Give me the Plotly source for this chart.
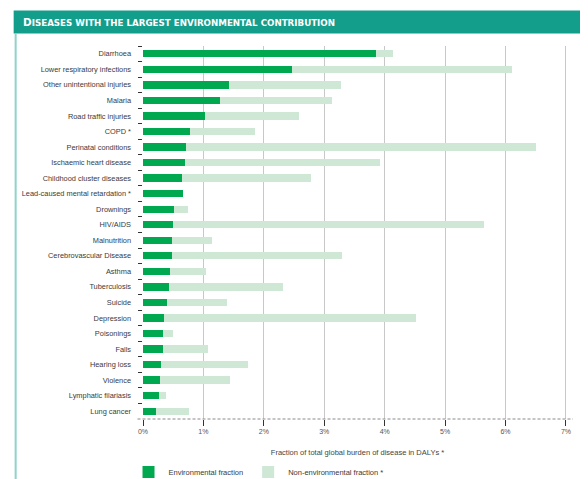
import plotly.graph_objects as go

diseases = [
    "Diarrhoea", "Lower respiratory infections", "Other unintentional injuries", "Malaria",
    "Road traffic injuries", "COPD *", "Perinatal conditions", "Ischaemic heart disease",
    "Childhood cluster diseases", "Lead-caused mental retardation *", "Drownings", "HIV/AIDS",
    "Malnutrition", "Cerebrovascular Disease", "Asthma", "Tuberculosis", "Suicide",
    "Depression", "Poisonings", "Falls", "Hearing loss", "Violence",
    "Lymphatic filariasis", "Lung cancer",
]
env_fraction = [3.85, 2.46, 1.43, 1.27, 1.03, 0.77, 0.71, 0.69, 0.65, 0.67, 0.52, 0.50,
                0.48, 0.48, 0.44, 0.43, 0.39, 0.35, 0.33, 0.33, 0.29, 0.28, 0.26, 0.22]
non_env_fraction = [0.29, 3.65, 1.84, 1.85, 1.56, 1.08, 5.79, 3.23, 2.13, 0.0, 0.23, 5.14,
                    0.66, 2.82, 0.61, 1.89, 1.00, 4.16, 0.17, 0.75, 1.45, 1.16, 0.12, 0.54]
x_ticks = [0, 1, 2, 3, 4, 5, 6, 7]
x_tick_labels = ["0%", "1%", "2%", "3%", "4%", "5%", "6%", "7%"]

GREEN = "#00a84f"
LIGHT = "#cfe7d5"
TEAL = "#139d8b"
FONT = "Liberation Sans Narrow, Arial Narrow, Liberation Sans, sans-serif"

# page body adds an 8px offset; work in window pixels and convert
OFF = 8
WIN_W, WIN_H = 588, 479
W, H = WIN_W - OFF, WIN_H - OFF
L, R, T, B = 142.5, 572.0, 45.5, 419.5  # plot area in window pixels


def px(xp):
    return (xp - L) / (R - L)


def py(yp):
    return (B - yp) / (B - T)


fig = go.Figure()
fig.add_trace(go.Bar(
    y=diseases, x=env_fraction, orientation="h", name="Environmental fraction",
    marker=dict(color=GREEN, line=dict(width=0)), width=0.47,
))
fig.add_trace(go.Bar(
    y=diseases, x=non_env_fraction, orientation="h", name="Non-environmental fraction *",
    marker=dict(color=LIGHT, line=dict(width=0)), width=0.47,
))

header = ("<b>D<span style='font-size:8.7px'>ISEASES WITH THE LARGEST ENVIRONMENTAL "
          "CONTRIBUTION</span></b>")

fig.update_layout(
    width=W, height=H,
    margin=dict(l=L - OFF, r=WIN_W - R, t=T - OFF, b=WIN_H - B, pad=0, autoexpand=False),
    paper_bgcolor="white", plot_bgcolor="white",
    barmode="stack", bargap=0.5,
    font=dict(family=FONT, size=8, color="#3a3a3a"),
    showlegend=True,
    legend=dict(orientation="h", x=px(128), xanchor="left", y=py(458), yanchor="top",
                font=dict(family=FONT, size=7.5, color="#3a3a3a"),
                itemwidth=30,
                bgcolor="rgba(0,0,0,0)", traceorder="normal"),
    xaxis=dict(
        range=[0, 7.1], tickvals=x_ticks, ticktext=x_tick_labels,
        showgrid=True, gridcolor="#c8c8c8", gridwidth=1.3, zeroline=False,
        ticks="outside", ticklen=6, tickcolor="#333333", tickwidth=1,
        tickfont=dict(family=FONT, size=7, color="#555555"),
        showline=False,
        title=dict(text="Fraction of total global burden of disease in DALYs *",
                   font=dict(family=FONT, size=7.5, color="#444444"), standoff=15),
    ),
    yaxis=dict(
        range=[len(diseases) - 0.5, -0.5], type="category",
        showgrid=False, zeroline=False, showline=False,
        ticks="outside", ticklen=4, tickcolor="#333333", tickwidth=1,
        tickson="boundaries", ticklabelstandoff=11,
        tickfont=dict(family=FONT, size=7.4, color="#3a3a3a"),
    ),
    shapes=[
        dict(type="rect", xref="paper", yref="paper", x0=px(13), x1=px(600),
             y0=py(33), y1=py(10), fillcolor=TEAL, line=dict(width=0), layer="above"),
        dict(type="line", xref="paper", yref="paper", x0=px(15), x1=px(15),
             y0=py(33), y1=py(485), line=dict(color="#8fd3c9", width=2)),
        dict(type="line", xref="paper", yref="paper", x0=px(137), x1=px(573),
             y0=0, y1=0, line=dict(color="#8a8a8a", width=1, dash="3px,2px")),
    ],
    annotations=[
        dict(text=header, xref="paper", yref="paper", x=px(20), y=py(21.5),
             xanchor="left", yanchor="middle", showarrow=False,
             font=dict(family="DejaVu Sans, sans-serif", size=10.5, color="white")),
    ],
)

fig.write_html("out.html")
